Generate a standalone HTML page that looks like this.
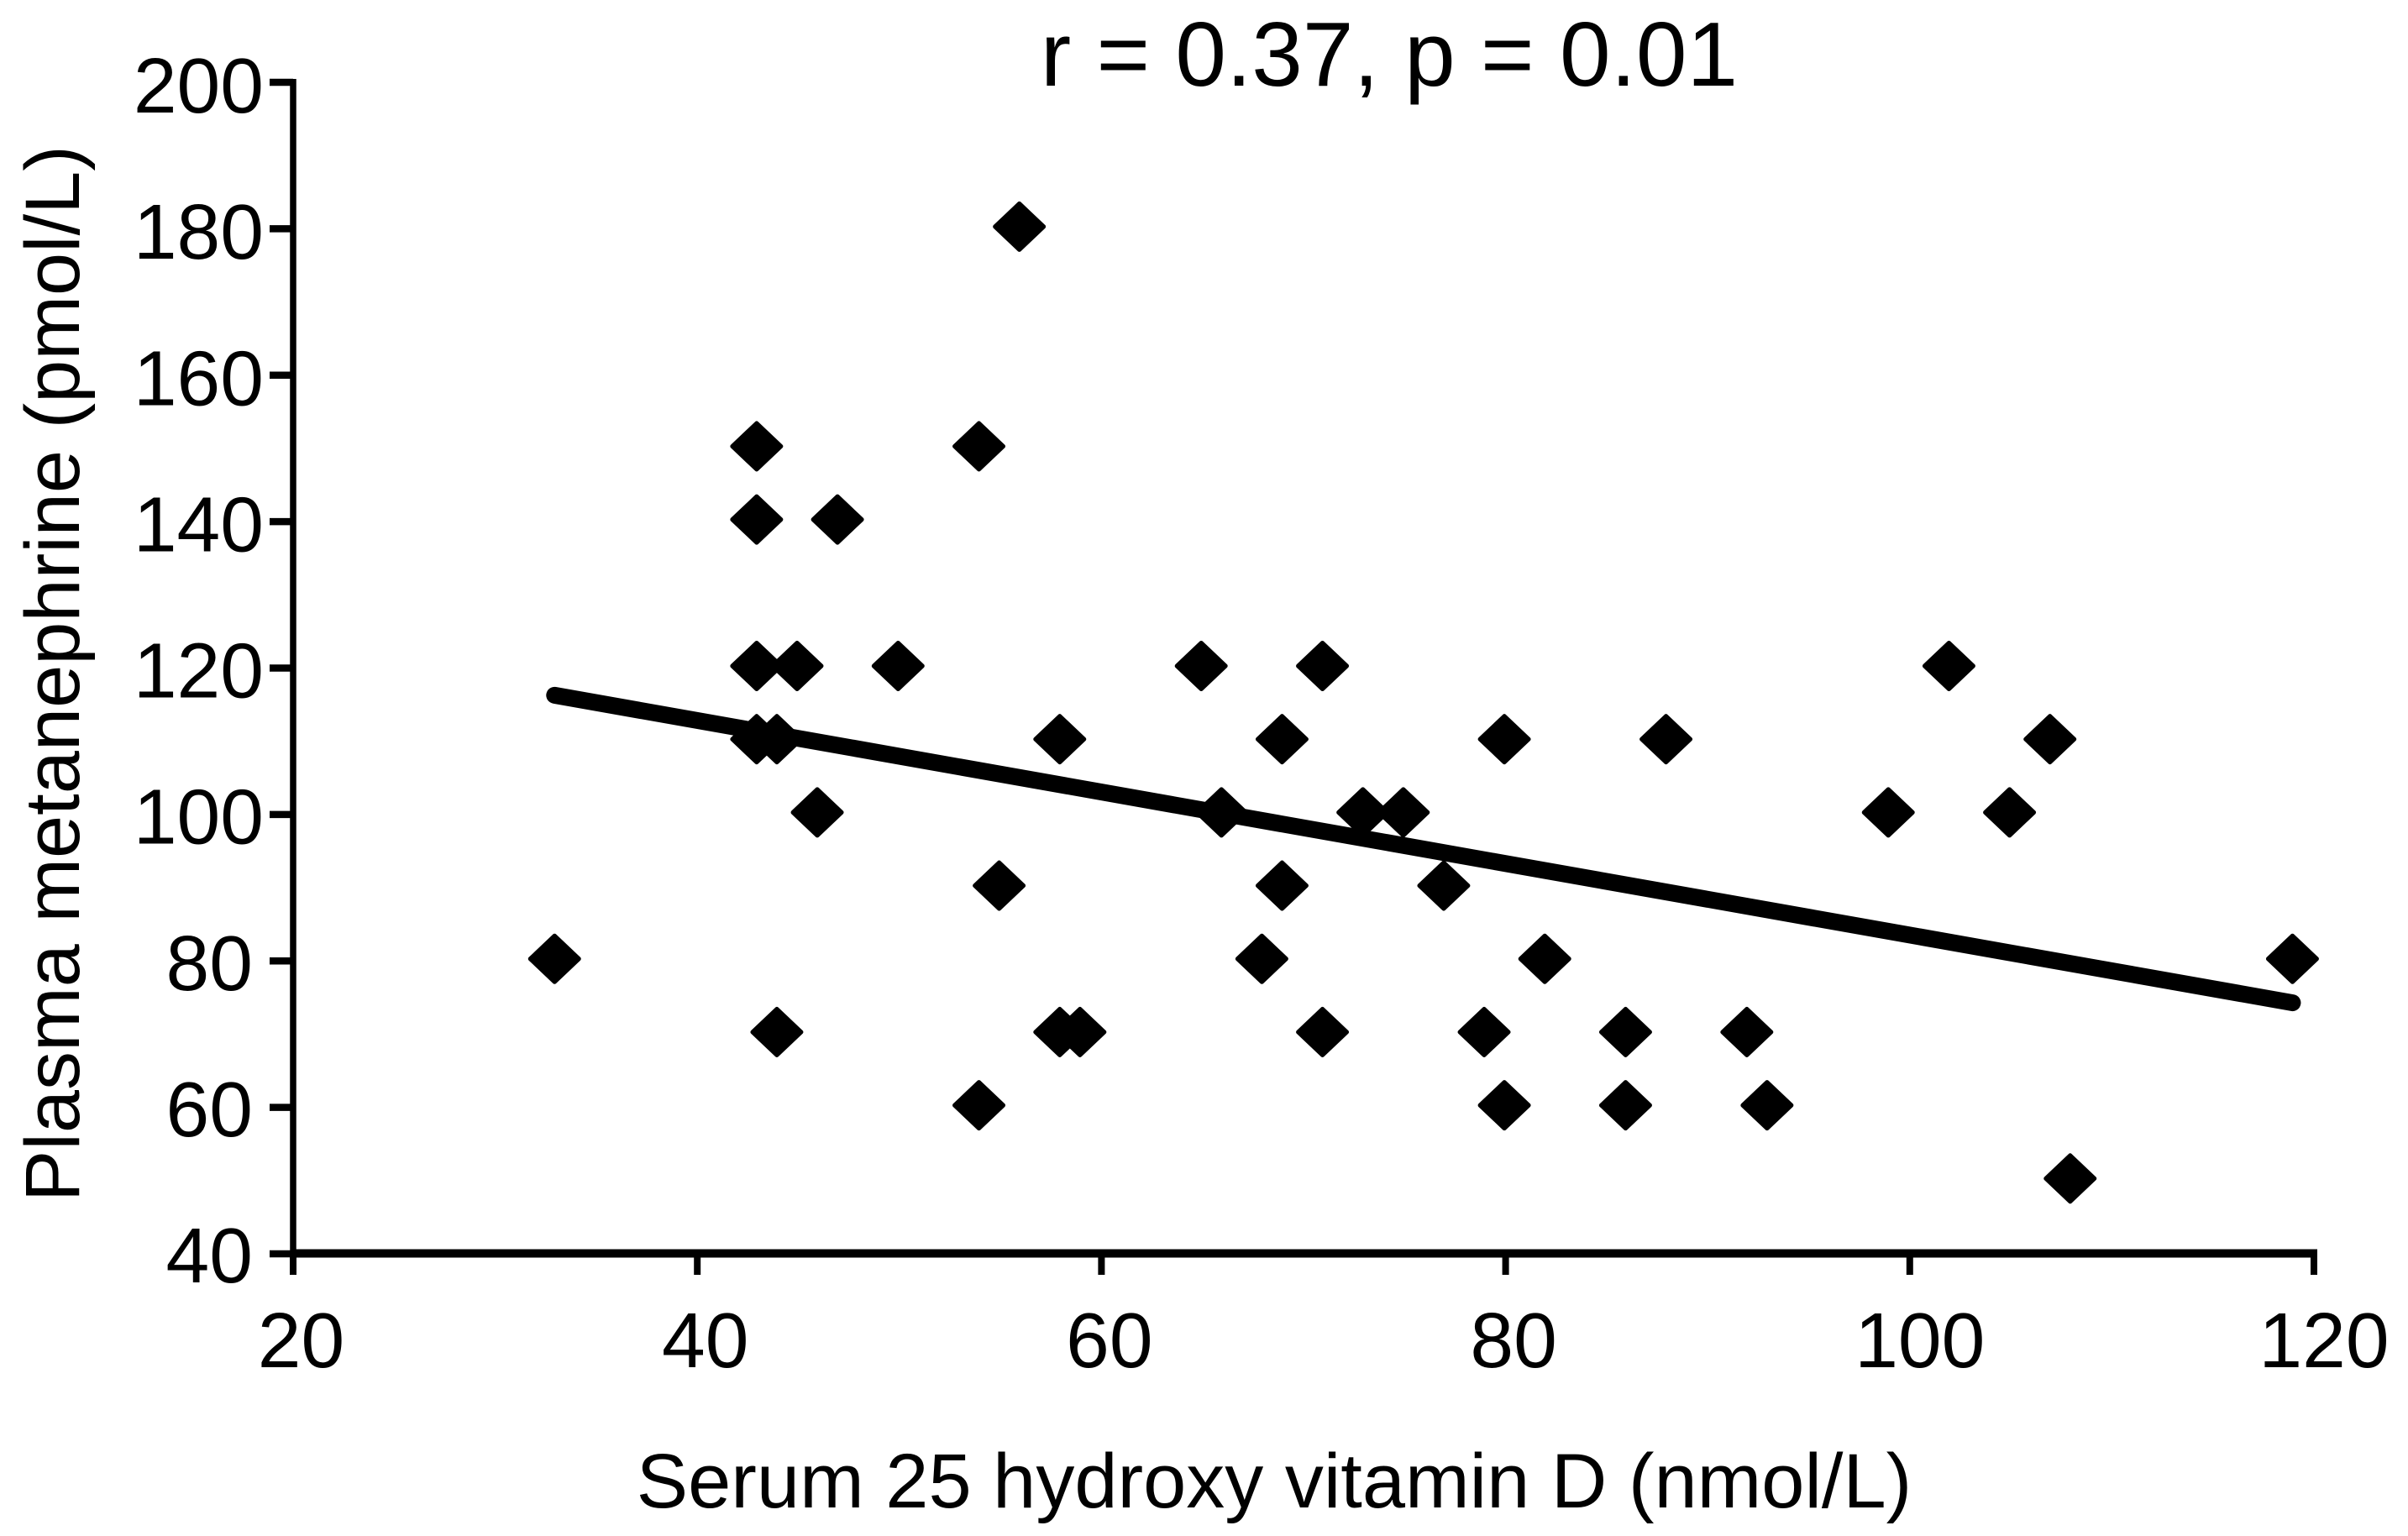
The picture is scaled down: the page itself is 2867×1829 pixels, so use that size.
<!DOCTYPE html>
<html lang="en">
<head>
<meta charset="utf-8">
<title>Plasma metanephrine vs serum 25 hydroxy vitamin D</title>
<style>
html,body{margin:0;padding:0;background:#fff;}
svg{display:block;}
text{font-family:"Liberation Sans",Arial,sans-serif;fill:#000;}
</style>
</head>
<body>
<svg id="chart" xmlns="http://www.w3.org/2000/svg" width="2867" height="1829" viewBox="0 0 2867 1829">
  <rect x="0" y="0" width="2867" height="1829" fill="#fff"/>
  <text x="1654" y="102" font-size="109" text-anchor="middle">r = 0.37, p = 0.01</text>
  <text x="1517" y="1795" font-size="92" text-anchor="middle">Serum 25 hydroxy vitamin D (nmol/L)</text>
  <text x="0" y="0" font-size="92" text-anchor="middle" transform="translate(94 802) rotate(-90)">Plasma metanephrine (pmol/L)</text>
  <g id="axes"></g>
  <g id="points"></g>
  <g id="trend"></g>
</svg>
<script>
const xTicks = [20, 40, 60, 80, 100, 120];
const yTicks = [40, 60, 80, 100, 120, 140, 160, 180, 200];
const vitaminD = [33,43,43,43,43,44,44,45,46,47,50,54,54,55,56,58,58,59,65,66,68,69,69,71,71,73,75,77,79,80,80,82,86,86,88,92,93,99,102,105,107,108,119];
const metanephrine = [80,150,140,120,110,110,70,120,100,140,120,150,60,90,180,110,70,70,120,100,80,110,90,120,70,100,100,90,70,110,60,80,70,60,110,70,60,100,120,100,110,50,80];
const trendX = [33, 119];
const trendY = [116, 74];

const NS = 'http://www.w3.org/2000/svg';
const plot = { left: 349, right: 2755, top: 98, bottom: 1493 };
const xDomain = [20, 120];
const yDomain = [40, 200];
const markOffsetX = -1.5;
const markOffsetY = -2.5;

function xScale(v) {
  return plot.left + (v - xDomain[0]) / (xDomain[1] - xDomain[0]) * (plot.right - plot.left);
}
function yScale(v) {
  return plot.bottom - (v - yDomain[0]) / (yDomain[1] - yDomain[0]) * (plot.bottom - plot.top);
}
function make(tag, attrs, parent) {
  const el = document.createElementNS(NS, tag);
  Object.keys(attrs).forEach(function (k) { el.setAttribute(k, attrs[k]); });
  parent.appendChild(el);
  return el;
}

const axes = document.getElementById('axes');
const points = document.getElementById('points');
const trend = document.getElementById('trend');

const yAxis = make('line', { x1: plot.left, x2: plot.left, y1: plot.top - 4, y2: plot.bottom + 25, stroke: '#000', 'stroke-width': 7.5 }, axes);



const xAxis = make('line', { x1: plot.left, x2: plot.right + 4, y1: plot.bottom - 0.5, y2: plot.bottom - 0.5, stroke: '#000', 'stroke-width': 10 }, axes);



yTicks.forEach(function (t) {
  const y = yScale(t);
  const tick = make('line', { x1: plot.left - 28, x2: plot.left, y1: y, y2: y, stroke: '#000', 'stroke-width': 8.5 }, axes);
  
  
  const text = String(t);
  const labelRight = text.length === 2 ? 301 : 314;
  const baselineShift = 34 + (t - yDomain[0]) / (yDomain[1] - yDomain[0]) * 2;
  const label = make('text', { x: labelRight, y: y + baselineShift, 'font-size': 93, 'text-anchor': 'end' }, axes);
  
  
  label.textContent = text;
});

xTicks.forEach(function (t) {
  const x = xScale(t);
  const tick = make('line', { x1: x, x2: x, y1: plot.bottom, y2: plot.bottom + 25, stroke: '#000', 'stroke-width': 8 }, axes);
  
  
  const text = String(t);
  const labelShift = text.length === 3 ? 12 : 9.5;
  const label = make('text', { x: x + labelShift, y: 1628, 'font-size': 93, 'text-anchor': 'middle' }, axes);
  
  
  label.textContent = text;
});

vitaminD.forEach(function (v, i) {
  const cx = xScale(v) + markOffsetX;
  const cy = yScale(metanephrine[i]) + markOffsetY;
  const hw = 29, hh = 27.5;
  const marker = make('polygon', {
    points: [cx, cy - hh, cx + hw, cy, cx, cy + hh, cx - hw, cy].join(' '),
    fill: '#000', stroke: '#000', 'stroke-width': 5, 'stroke-linejoin': 'round'
  }, points);
  
  
});

const trendLine = make('line', {
  x1: xScale(trendX[0]) + markOffsetX, y1: yScale(trendY[0]) + markOffsetY,
  x2: xScale(trendX[1]) + markOffsetX, y2: yScale(trendY[1]) + markOffsetY,
  stroke: '#000', 'stroke-width': 20, 'stroke-linecap': 'round'
}, trend);


</script>
</body>
</html>
